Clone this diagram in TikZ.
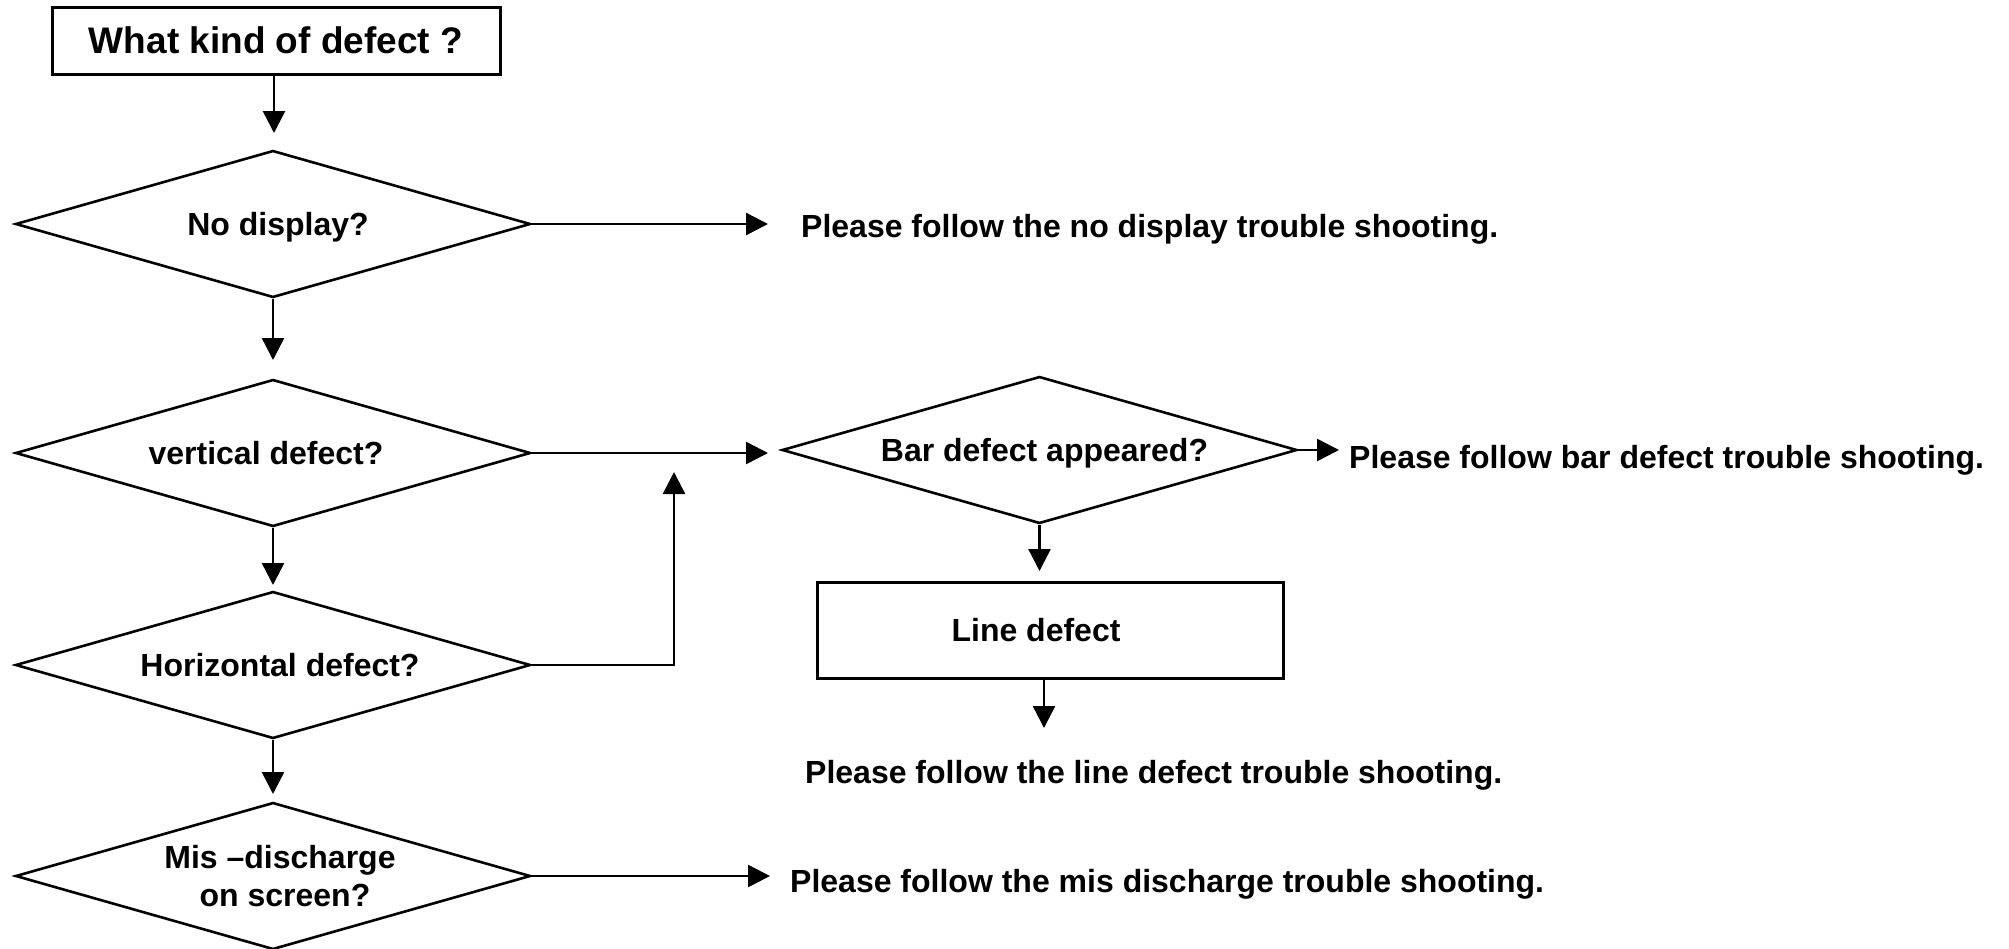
\documentclass[tikz,border=0pt]{standalone}
\usepackage{fontspec}
\setmainfont{Liberation Sans}
\usetikzlibrary{shapes.geometric,arrows.meta}
\begin{document}
\begin{tikzpicture}[x=1pt,y=-1pt,
  dia/.style={draw, line width=2.6pt, shape=diamond, aspect=3.5,
    minimum width=515pt, minimum height=147pt, inner sep=0pt,
    text depth=0pt,
    font=\fontsize{32}{38}\selectfont\bfseries, align=center},
  rbox/.style={draw, line width=3pt, inner sep=0pt,
    font=\fontsize{32}{38}\selectfont\bfseries},
  arr/.style={line width=2.5pt, -{Triangle[length=22pt,width=22pt]}},
  lbl/.style={anchor=base west, inner sep=0pt,
    font=\fontsize{32}{38}\selectfont\bfseries}]
\useasboundingbox (0,0) rectangle (2009,948);

% nodes
\node[rbox, minimum width=448pt, minimum height=67pt,
      font=\fontsize{37}{42}\selectfont\bfseries] (q) at (276,40.5) {What kind of defect ?};
\node[dia] (d1) at (273,224) {\hspace*{10pt}No display?};
\node[dia] (d2) at (273,453) {vertical defect?\hspace*{14pt}};
\node[dia] (d3) at (273,665) {\hspace*{14pt}Horizontal defect?};
\node[dia] (d4) at (273,876) {\hspace*{14pt}Mis –discharge\\ \hspace*{24pt}on screen?};
\node[dia] (bar) at (1039.5,450) {\hspace*{10pt}Bar defect appeared?};
\node[rbox, minimum width=466pt, minimum height=96pt] (ld) at (1050,630) {Line defect\hspace*{28pt}};

\node[lbl] (t1) at (801,237) {Please follow the no display trouble shooting.};
\node[lbl] (t2) at (1349,468) {Please follow bar defect trouble shooting.};
\node[lbl] (t3) at (805,783) {Please follow the line defect trouble shooting.};
\node[lbl] (t4) at (790,892) {Please follow the mis discharge trouble shooting.};

% free arrow ends
\coordinate (e0) at (274,133);
\coordinate (e1) at (273,360);
\coordinate (e2) at (273,585);
\coordinate (e3) at (273,794);
\coordinate (e4) at (768,224);
\coordinate (e5) at (768,453);
\coordinate (e6) at (674,472);
\coordinate (e7) at (1339,450);
\coordinate (e8) at (1039.5,571);
\coordinate (e9) at (1044,728);
\coordinate (e10) at (770,876);

% connectors
\draw[arr] (q.south -| e0) -- (e0);
\draw[arr] (d1.south) -- (e1);
\draw[arr] (d2.south) -- (e2);
\draw[arr] (d3.south) -- (e3);
\draw[arr] (d1.east) -- (d1.east -| e4);
\draw[arr] (d2.east) -- (d2.east -| e5);
\draw[arr] (d3.east) -| (e6);
\draw[arr] (bar.east) -- (bar.east -| e7);
\draw[arr] (bar.south) -- (e8);
\draw[arr] (ld.south -| e9) -- (e9);
\draw[arr] (d4.east) -- (d4.east -| e10);
\end{tikzpicture}
\end{document}
